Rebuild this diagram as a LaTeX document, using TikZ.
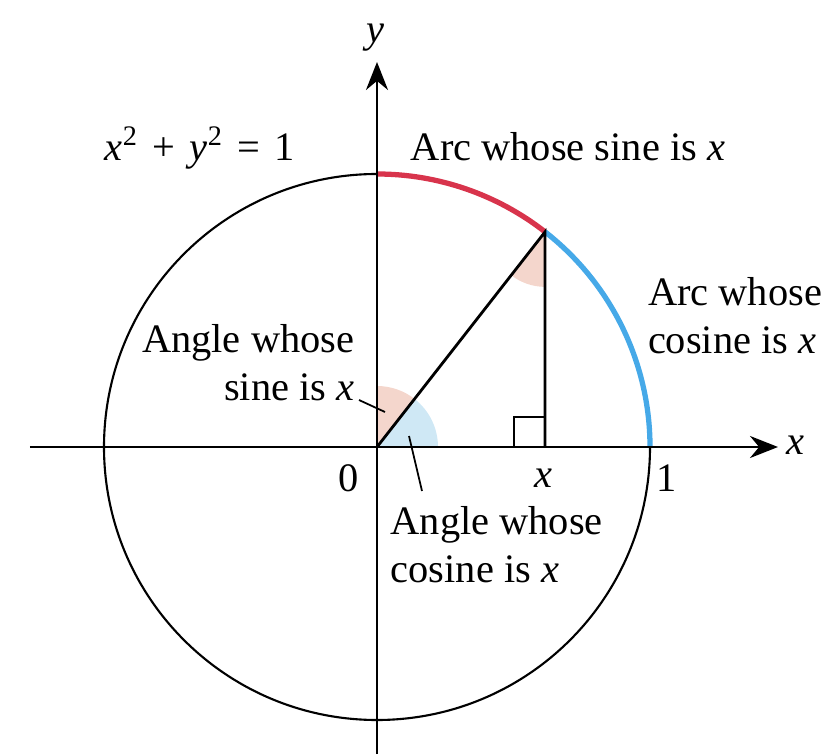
\documentclass[tikz,border=0pt]{standalone}
\usepackage{fontspec}
\setmainfont{Liberation Serif}
\usetikzlibrary{arrows.meta,calc}
\definecolor{arcred}{HTML}{D8344C}
\definecolor{arcblue}{HTML}{46A9E8}
\definecolor{wedgered}{HTML}{F4D6CC}
\definecolor{wedgeblue}{HTML}{CFE8F5}
\newcommand{\vx}{\textit{x}}
\newcommand{\vy}{\textit{y}}
\newcommand{\opgap}{\hspace{0.35em}}
\tikzset{
    % Line styles
    axis/.style={-{Stealth[length=2.8mm, width=2.2mm]}, line width=0.8pt},
    unit circle/.style={line width=0.6pt},
    colored arc/.style={line width=1.5pt},
    leg/.style={line width=0.8pt},
    leader/.style={line width=0.5pt},
    % Text styles
    lbl/.style={inner sep=0pt, font=\fontsize{11.5}{13.7}\selectfont},
}

\begin{document}
\begin{tikzpicture}[x=1cm, y=1cm]
    \useasboundingbox (-3.77,-3.07) rectangle (4.58,4.47);
    \def\r{2.73}
    \def\t{52}

    % Points
    \coordinate (O) at (0,0);
    \coordinate (P) at (\t:\r);
    \coordinate (F) at ($(O)!(P)!(1,0)$);
    \coordinate (xl) at (-3.47,0);
    \coordinate (xr) at (4.01,0);
    \coordinate (yb) at (0,-3.07);
    \coordinate (yt) at (0,3.85);

    % Angle wedges
    \fill[wedgeblue] (O) -- (0:0.61) arc (0:\t:0.61) -- cycle;
    \fill[wedgered] (O) -- (\t:0.61) arc (\t:90:0.61) -- cycle;
    \fill[wedgered] (P) -- ++(270:0.55) arc (270:180+\t:0.55) -- cycle;

    % Circle and arcs
    \draw[unit circle] (O) circle (\r);
    \draw[colored arc, arcred] (90:\r) arc (90:\t:\r);
    \draw[colored arc, arcblue] (\t:\r) arc (\t:0:\r);

    % Axes
    \draw[axis] (xl) -- (xr);
    \draw[axis] (yb) -- (yt);

    % Triangle
    \draw[leg] (O) -- (P) -- (F);
    \draw[leg] ($(F)+(0,0.3)$) -| ($(F)+(-0.31,0)$);

    % Axis labels
    \node[lbl] (ylab) at (-0.02,4.09) {\vy};
    \node[lbl] (xlab) at (4.18,0.02) {\vx};
    \node[lbl] (zero) at (-0.28,-0.31) {0};
    \node[lbl] (xfoot) at (1.66,-0.31) {\vx};
    \node[lbl] (one) at (2.90,-0.31) {1};

    % Annotations
    \node[lbl] (eq) at (-1.77,2.99) {\vx\textsuperscript{2}\opgap+\opgap\vy\textsuperscript{2}\opgap=\opgap1};
    \node[lbl] (arcsin) at (1.91,3.00) {Arc whose sine is \vx};
    \node[lbl, align=left] (arccos) at (3.58,1.31) {Arc whose\\cosine is \vx};
    \node[lbl, align=right, anchor=east] (angsin) at (-0.22,0.84) {Angle whose\\sine is \vx};
    \node[lbl, align=left, anchor=west] (angcos) at (0.13,-0.98) {Angle whose\\cosine is \vx};

    % Leader lines
    \coordinate (sintip) at (0.08,0.35);
    \coordinate (costip) at (0.32,0.11);
    \draw[leader] ($(angsin.east)+(0.04,-0.37)$) -- (sintip);
    \draw[leader] ($(angcos.north west)+(0.32,0.15)$) -- (costip);
\end{tikzpicture}
\end{document}
